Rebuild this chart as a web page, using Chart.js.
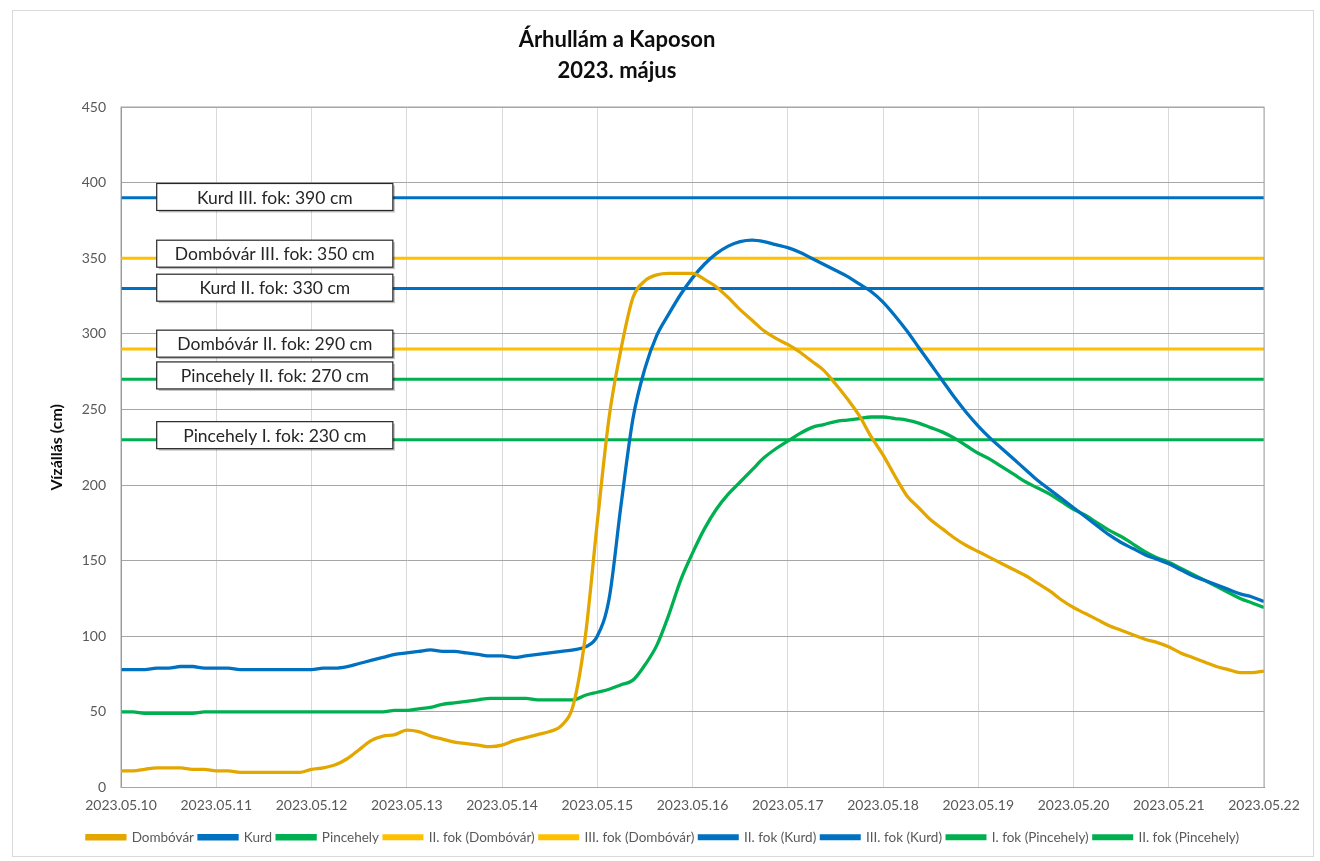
<!DOCTYPE html>
<html>
<head>
<meta charset="utf-8">
<script src="https://cdn.jsdelivr.net/npm/chart.js@4.4.0/dist/chart.umd.min.js"></script>
<style>
  body { margin: 0; background: #fff; font-family: Lato, sans-serif; }
  #frame { position: absolute; left: 12px; top: 10px; width: 1300px; height: 845px; border: 1px solid #d9d9d9; }
  #title { position: absolute; left: 417px; top: 23px; width: 400px; text-align: center;
           font: bold 22px Lato, sans-serif; line-height: 31px; color: #0d0d0d; }
</style>
</head>
<body>
<div id="frame"><canvas id="flood"></canvas></div>
<div id="title">Árhullám a Kaposon<br>2023. május</div>
<script>
// time in hours from 2023.05.10 00:00, one reading every 3 hours
const hours = Array.from({ length: 97 }, (_, i) => i * 3);
const dateLabels = ['2023.05.10', '2023.05.11', '2023.05.12', '2023.05.13', '2023.05.14', '2023.05.15', '2023.05.16',
                    '2023.05.17', '2023.05.18', '2023.05.19', '2023.05.20', '2023.05.21', '2023.05.22'];
const yTicks = [0, 50, 100, 150, 200, 250, 300, 350, 400, 450];

const dombovar = [11, 11, 12, 13, 13, 13, 12, 12, 11, 11, 10, 10, 10, 10, 10, 10,
  12, 13, 15, 19, 25, 31, 34, 35, 38, 37, 34, 32, 30, 29, 28, 27,
  28, 31, 33, 35, 37, 41, 55, 100, 175, 245, 290, 324, 335, 339, 340, 340,
  340, 336, 331, 324, 316, 309, 302, 297, 293, 288, 282, 276, 267, 257, 246, 232,
  220, 206, 193, 185, 177, 171, 165, 160, 156, 152, 148, 144, 140, 135, 130, 124,
  119, 115, 111, 107, 104, 101, 98, 96, 93, 89, 86, 83, 80, 78, 76, 76, 77];
const kurd = [78, 78, 78, 79, 79, 80, 80, 79, 79, 79, 78, 78, 78, 78, 78, 78,
  78, 79, 79, 80, 82, 84, 86, 88, 89, 90, 91, 90, 90, 89, 88, 87,
  87, 86, 87, 88, 89, 90, 91, 93, 100, 125, 187, 244, 277, 299, 313, 326,
  337, 346, 353, 358, 361, 362, 361, 359, 357, 354, 350, 346, 342, 338, 333, 328,
  321, 312, 302, 291, 280, 269, 258, 248, 239, 231, 224, 217, 210, 203, 197, 191,
  185, 179, 173, 167, 162, 158, 154, 151, 148, 144, 140, 137, 134, 131, 128, 126, 123];
const pincehely = [50, 50, 49, 49, 49, 49, 49, 50, 50, 50, 50, 50, 50, 50, 50, 50,
  50, 50, 50, 50, 50, 50, 50, 51, 51, 52, 53, 55, 56, 57, 58, 59,
  59, 59, 59, 58, 58, 58, 58, 61, 63, 65, 68, 71, 81, 94, 114, 137,
  155, 171, 184, 194, 202, 210, 218, 224, 229, 234, 238, 240, 242, 243, 244, 245,
  245, 244, 243, 241, 238, 235, 231, 226, 221, 217, 212, 207, 202, 198, 194, 189,
  184, 180, 175, 170, 166, 161, 156, 152, 149, 145, 141, 137, 133, 129, 125, 122, 119];

const seriesNames = ['Dombóvár', 'Kurd', 'Pincehely'];
const thresholdNames = ['II. fok (Dombóvár)', 'III. fok (Dombóvár)', 'II. fok (Kurd)', 'III. fok (Kurd)',
                        'I. fok (Pincehely)', 'II. fok (Pincehely)'];
const thresholdValues = [290, 350, 330, 390, 230, 270];
const thresholdTexts = ['Dombóvár II. fok: 290 cm', 'Dombóvár III. fok: 350 cm', 'Kurd II. fok: 330 cm',
                        'Kurd III. fok: 390 cm', 'Pincehely I. fok: 230 cm', 'Pincehely II. fok: 270 cm'];

// styles
const seriesColors = ['#E3A700', '#0070C0', '#00B050'];
const thresholdColors = ['#FFC000', '#FFC000', '#0070C0', '#0070C0', '#00B050', '#00B050'];
const boxShift = [3.5, 3, 0.5, 0.5, 3, 2.5]; // label box offset above its line, cm
const textColor = '#595959';

const toPoints = vals => vals.map((v, i) => ({ x: hours[i], y: v }));

const datasets = [];
seriesNames.forEach((name, k) => {
  datasets.push({
    label: name,
    data: toPoints([dombovar, kurd, pincehely][k]),
    borderColor: seriesColors[k],
    backgroundColor: seriesColors[k],
    borderWidth: 3.3,
    pointRadius: 0,
    cubicInterpolationMode: 'monotone'
  });
});
thresholdNames.forEach((name, k) => {
  datasets.push({
    label: name,
    data: [{ x: hours[0], y: thresholdValues[k] }, { x: hours[hours.length - 1], y: thresholdValues[k] }],
    borderColor: thresholdColors[k],
    backgroundColor: thresholdColors[k],
    borderWidth: 3,
    pointRadius: 0
  });
});

const labelBoxes = {
  id: 'labelBoxes',
  afterDatasetsDraw(chart) {
    const { ctx, chartArea } = chart;
    const x = chart.scales.x, y = chart.scales.y;
    // outline of the plot area
    ctx.save();
    ctx.strokeStyle = '#a6a6a6';
    ctx.lineWidth = 1;
    ctx.strokeRect(chartArea.left, chartArea.top, chartArea.right - chartArea.left, chartArea.bottom - chartArea.top);
    ctx.restore();

    const x0 = x.getPixelForValue(9), x1 = x.getPixelForValue(68.5);
    ctx.save();
    ctx.font = '17.5px Lato, sans-serif';
    ctx.textAlign = 'center';
    ctx.textBaseline = 'middle';
    thresholdTexts.forEach((t, k) => {
      const cy = y.getPixelForValue(thresholdValues[k] + boxShift[k]);
      const h = 27;
      ctx.fillStyle = 'rgba(0,0,0,0.25)';
      ctx.fillRect(x0 + 2, cy - h / 2 + 2, x1 - x0, h);
      ctx.fillStyle = '#fff';
      ctx.fillRect(x0, cy - h / 2, x1 - x0, h);
      ctx.strokeStyle = '#262626';
      ctx.lineWidth = 1.2;
      ctx.strokeRect(x0, cy - h / 2, x1 - x0, h);
      ctx.fillStyle = '#262626';
      ctx.fillText(t, (x0 + x1) / 2, cy + 1);
    });
    ctx.restore();
  }
};

new Chart(document.getElementById('flood'), {
  type: 'line',
  data: { datasets: datasets },
  options: {
    responsive: true,
    maintainAspectRatio: false,
    animation: false,
    layout: { padding: { top: 96, left: 0, right: 0, bottom: 2 } },
    plugins: {
      title: { display: false },
      tooltip: { enabled: false },
      legend: {
        position: 'bottom',
        labels: {
          boxWidth: 38,
          boxHeight: 3,
          padding: 5,
          color: textColor,
          font: { family: 'Lato', size: 13.5 }
        }
      }
    },
    scales: {
      x: {
        type: 'linear',
        min: 0,
        max: 288,
        ticks: {
          stepSize: 24,
          padding: 10,
          color: textColor,
          font: { family: 'Lato', size: 14 },
          maxRotation: 0,
          callback: v => dateLabels[v / 24]
        },
        grid: { color: '#d9d9d9', drawTicks: false },
        border: { color: '#8c8c8c' },
        afterFit: s => { s.height = 38; }
      },
      y: {
        min: 0,
        max: 450,
        afterBuildTicks: s => { s.ticks = yTicks.map(v => ({ value: v })); },
        ticks: { padding: 15, color: textColor, font: { family: 'Lato', size: 14 } },
        grid: { color: '#a6a6a6', drawTicks: false },
        border: { color: '#8c8c8c' },
        title: {
          display: true,
          text: 'Vízállás (cm)',
          color: '#0d0d0d',
          font: { family: 'Lato', size: 16, weight: 'bold' },
          padding: { top: 34, bottom: 0 }
        },
        afterFit: s => { s.width = 108; }
      },
      yRight: {
        position: 'right',
        display: true,
        ticks: { display: false },
        grid: { display: false },
        border: { display: false },
        afterFit: s => { s.width = 49; }
      }
    }
  },
  plugins: [labelBoxes]
});
</script>
</body>
</html>
